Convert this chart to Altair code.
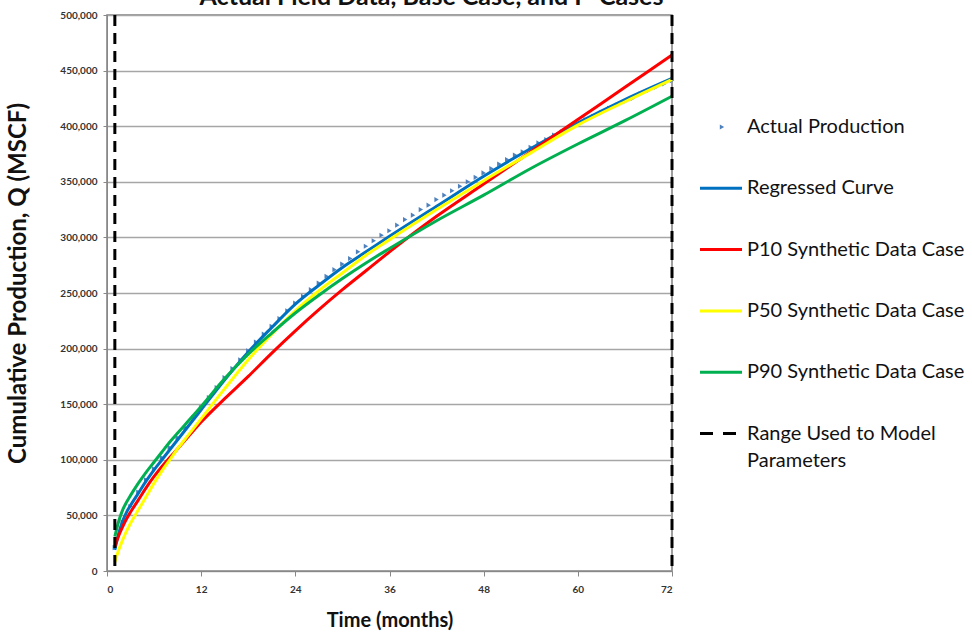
import altair as alt
import pandas as pd

# ---- data (cumulative production, MSCF) ----
ACTUAL_MONTHS = list(range(1, 73))
ACTUAL_Q = [
    21000, 44000, 58000, 71000, 82000, 92000, 102000, 111000, 120000, 129000,
    138000, 147000, 156000, 165000, 174000, 182000, 190000, 198000, 206000, 213000,
    220000, 227000, 234000, 241000, 247000, 253000, 259000, 265000, 271000, 276000,
    281000, 287000, 292000, 297000, 302000, 306000, 311000, 316000, 320000, 325000,
    329000, 334000, 338000, 342000, 346000, 350000, 354000, 358000, 362000, 366000,
    370000, 374000, 377000, 381000, 385000, 388000, 392000, 395000, 399000, 402000,
    406000, 409000, 412000, 416000, 419000, 422000, 425000, 429000, 432000, 435000,
    438000, 441000,
]

CURVE_MONTHS = [1, 1.5, 2, 2.5, 3, 4, 5, 6, 7, 8, 9, 10, 12, 15, 18, 21, 24, 27,
                30, 33, 36, 42, 48, 54, 60, 66, 72]
REGRESSED_Q = [19000, 34000, 45000, 53000, 59000, 70000, 81000, 91000, 100000, 109000,
               118000, 127000, 145000, 172000, 197000, 219000, 240000, 257000, 273000,
               287000, 301000, 328000, 355000, 380000, 403000, 424000, 443000]
P10_Q = [22000, 32000, 40000, 47000, 53000, 64000, 75000, 85000, 94000, 102000,
         110000, 118000, 134000, 155000, 175000, 196000, 216000, 235000, 253000,
         270000, 287000, 319000, 348000, 377000, 406000, 435000, 464000]
P50_Q = [8000, 19000, 28000, 36000, 43000, 55000, 67000, 79000, 90000, 100000,
         110000, 119000, 137000, 164000, 190000, 213000, 234000, 252000, 268000,
         284000, 298000, 325000, 351000, 376000, 401000, 422000, 442000]
P90_Q = [31000, 45000, 55000, 62000, 68000, 79000, 89000, 98000, 107000, 116000,
         124000, 132000, 148000, 173000, 195000, 214000, 232000, 248000, 263000,
         277000, 290000, 315000, 338000, 362000, 384000, 405000, 427000]

RANGE_MONTHS = [1, 72]

SERIES = ["Actual Production", "Regressed Curve", "P10 Synthetic Data Case",
          "P50 Synthetic Data Case", "P90 Synthetic Data Case",
          "Range Used to Model Parameters"]
COLORS = ["#4F81BD", "#0070C0", "#FF0000", "#FFFF00", "#00B050", "#000000"]

TITLE = "Actual Field Data, Base Case, and P-Cases"
X_TICKS = [0, 12, 24, 36, 48, 60, 72]
Y_TICKS = list(range(0, 500001, 50000))

FONT = "Lato"
W, H = 565, 556

actual_df = pd.DataFrame({"month": ACTUAL_MONTHS, "q": ACTUAL_Q})
curves = {
    SERIES[1]: REGRESSED_Q,
    SERIES[2]: P10_Q,
    SERIES[3]: P50_Q,
    SERIES[4]: P90_Q,
}
range_df = pd.DataFrame({"month": RANGE_MONTHS})

x_enc = alt.X(
    "month:Q",
    scale=alt.Scale(domain=[0, 72], nice=False, zero=False),
    axis=alt.Axis(
        values=X_TICKS, grid=False, title="Time (months)",
        labelFont=FONT, labelFontSize=10, labelFontWeight="bold", labelColor="#333333",
        labelPadding=8, tickSize=5, tickColor="#888888", domainColor="#888888",
        titleFont=FONT, titleFontSize=20, titleFontWeight="bold", titleColor="#111111",
        titleY=49, titleBaseline="middle",
    ),
)
y_enc = alt.Y(
    "q:Q",
    scale=alt.Scale(domain=[0, 500000], nice=False),
    axis=alt.Axis(
        values=Y_TICKS, labelExpr="format(datum.value, ',')", grid=True,
        gridColor="#A6A6A6", gridWidth=1.5,
        title="Cumulative Production, Q (MSCF)",
        labelFont=FONT, labelFontSize=10, labelFontWeight="bold", labelColor="#333333",
        labelPadding=6, tickSize=4, tickColor="#888888", domainColor="#888888",
        titleFont=FONT, titleFontSize=24, titleFontWeight="bold", titleColor="#111111",
        titleX=-89, titleY=268, titleBaseline="middle",
    ),
)

layers = []

# actual production markers
layers.append(
    alt.Chart(actual_df).mark_point(
        shape="triangle-right", filled=True, size=26, color=COLORS[0], opacity=1
    ).encode(x=x_enc, y=y_enc)
)

# regressed and synthetic cases, drawn in series order
for name, color in zip(SERIES[1:5], COLORS[1:5]):
    df = pd.DataFrame({"month": CURVE_MONTHS, "q": curves[name]})
    layers.append(
        alt.Chart(df).mark_line(
            color=color, strokeWidth=3, interpolate="monotone"
        ).encode(x=x_enc, y=y_enc)
    )

# dashed bounds of the fitting window
layers.append(
    alt.Chart(range_df).mark_rule(
        color="#000000", strokeWidth=3, strokeDash=[11, 7]
    ).encode(x=x_enc)
)

# ---- chart heading, sitting right at the top edge of the page ----
layers.append(
    alt.Chart(pd.DataFrame({"t": [TITLE]})).mark_text(
        align="center", baseline="alphabetic", font=FONT, fontSize=25,
        fontWeight="bold", color="#111111",
    ).encode(x=alt.value(W / 2 + 42), y=alt.value(-10), text="t:N")
)

# ---- legend at the right of the plot ----
legend_rows = pd.DataFrame({
    "label": ["Actual Production", "Regressed Curve", "P10 Synthetic Data Case",
              "P50 Synthetic Data Case", "P90 Synthetic Data Case",
              "Range Used to Model", "Parameters"],
    "row": [0, 1, 2, 3, 4, 5, 5],
    "line": [0, 0, 0, 0, 0, 0, 1],
})
legend_syms = pd.DataFrame({"series": SERIES, "row": list(range(len(SERIES)))})
row_y = "112 + 61.3 * datum.row"
ly = alt.Y("ly:Q", scale=None, axis=None)

layers.append(
    alt.Chart(legend_rows).transform_calculate(
        ly=row_y + " + 27 * datum.line"
    ).mark_text(
        align="left", baseline="middle", font=FONT, fontSize=20, color="#111111"
    ).encode(x=alt.value(640), y=ly, text="label:N")
)
layers.append(
    alt.Chart(legend_syms).transform_filter("datum.row == 0").transform_calculate(
        ly=row_y
    ).mark_point(
        shape="triangle-right", filled=True, size=26, color=COLORS[0], opacity=1
    ).encode(x=alt.value(615), y=ly)
)
layers.append(
    alt.Chart(legend_syms).transform_filter("datum.row >= 1 && datum.row <= 4").transform_calculate(
        ly=row_y
    ).mark_rule(strokeWidth=3).encode(
        x=alt.value(593), x2=alt.value(635), y=ly,
        color=alt.Color("series:N", scale=alt.Scale(domain=SERIES, range=COLORS), legend=None),
    )
)
layers.append(
    alt.Chart(legend_syms).transform_filter("datum.row == 5").transform_calculate(
        ly=row_y
    ).mark_rule(strokeWidth=3, strokeDash=[13, 10], color="#000000").encode(
        x=alt.value(593), x2=alt.value(630), y=ly,
    )
)

chart = alt.layer(*layers).properties(
    width=W,
    height=H,
    autosize=alt.AutoSizeParams(type="none"),
    padding={"left": 107, "top": 15, "right": 300, "bottom": 66},
    background="#ffffff",
).configure_view(stroke="#7F7F7F", strokeWidth=1.5)

chart.save("out.html", embed_options={"renderer": "svg", "actions": False})
